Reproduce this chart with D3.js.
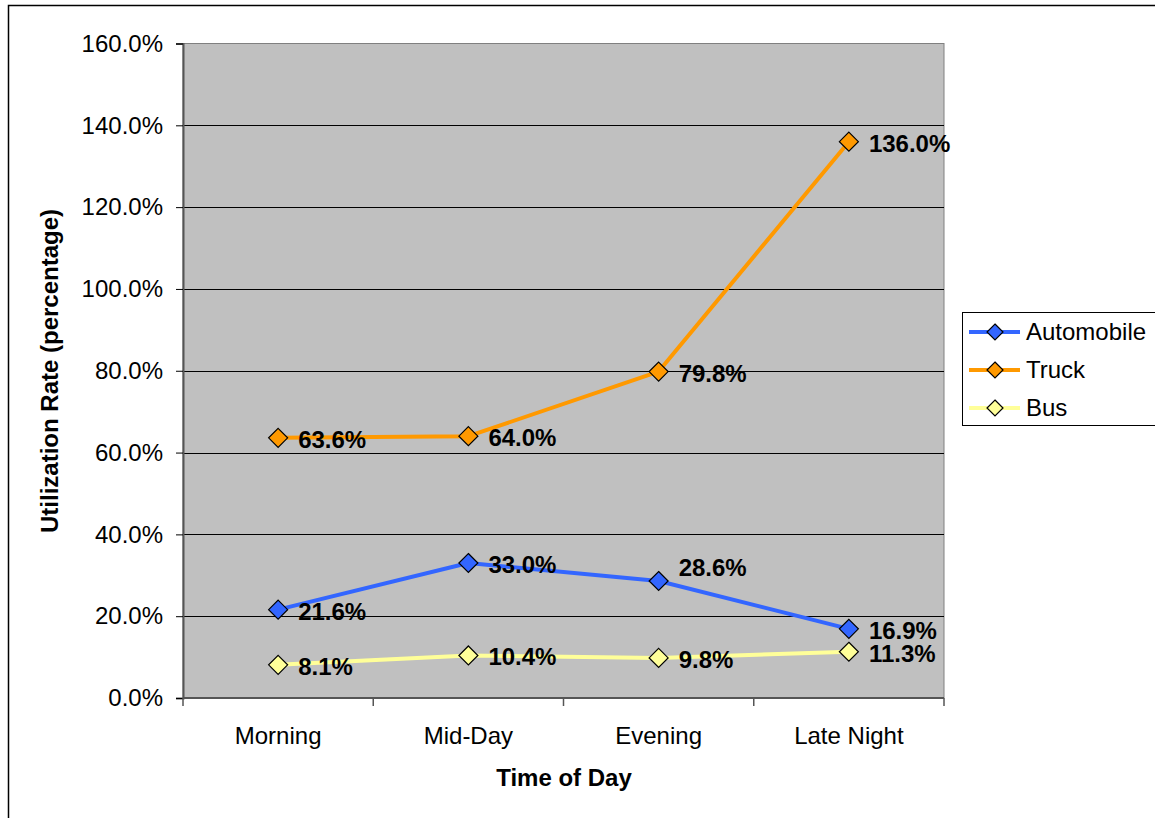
<!DOCTYPE html>
<html>
<head>
<meta charset="utf-8">
<script src="https://cdn.jsdelivr.net/npm/d3@7"></script>
<style>
  html, body { margin: 0; padding: 0; background: #fff; }
  svg { display: block; }
  text { font-family: "Liberation Sans", Arial, sans-serif; }
</style>
</head>
<body>
<svg id="chart" width="1155" height="818"></svg>
<script>
// ---- Data ----
const categories = ["Morning", "Mid-Day", "Evening", "Late Night"];
const seriesNames = ["Automobile", "Truck", "Bus"];
const automobile = [21.6, 33.0, 28.6, 16.9];
const truck = [63.6, 64.0, 79.8, 136.0];
const bus = [8.1, 10.4, 9.8, 11.3];
const yTicks = [0, 20, 40, 60, 80, 100, 120, 140, 160];
const seriesColors = ["#3366FF", "#FF9900", "#FFFF99"];
const xTitle = "Time of Day";
const yTitle = "Utilization Rate (percentage)";

const seriesValues = [automobile, truck, bus];
const series = seriesNames.map((name, i) => ({
  name, color: seriesColors[i],
  values: seriesValues[i].map((v, j) => ({ cat: categories[j], v }))
}));

// ---- Layout ----
const svg = d3.select("#chart");
const plot = { left: 183, right: 944, top: 43.5, bottom: 698 };
const FS = 24;

// outer chart frame
svg.append("rect")
  .attr("x", 8.5).attr("y", 5.5).attr("width", 1170).attr("height", 830)
  .attr("fill", "#fff").attr("stroke", "#000").attr("stroke-width", 1.5);

const x = d3.scaleBand().domain(categories).range([plot.left, plot.right]).padding(0);
const y = d3.scaleLinear().domain([0, 160]).range([plot.bottom, plot.top]);
const cx = c => x(c) + x.bandwidth() / 2;

// plot area
svg.append("rect")
  .attr("x", plot.left).attr("y", plot.top)
  .attr("width", plot.right - plot.left).attr("height", plot.bottom - plot.top)
  .attr("fill", "#C0C0C0").attr("stroke", "#808080").attr("stroke-width", 1);

// gridlines
svg.append("g").selectAll("line").data(yTicks.filter(t => t > 0 && t < 160)).join("line")
  .attr("x1", plot.left).attr("x2", plot.right)
  .attr("y1", d => Math.round(y(d)) + 0.5).attr("y2", d => Math.round(y(d)) + 0.5)
  .attr("stroke", "#000").attr("stroke-width", 1);

// Y axis
const yAxis = d3.axisLeft(y).tickValues(yTicks).tickSize(7).tickPadding(13)
  .tickFormat(d => d3.format(".1f")(d) + "%");
const gy = svg.append("g").attr("transform", `translate(${plot.left},0)`).call(yAxis);
gy.select(".domain").attr("stroke", "#555").attr("stroke-width", 2);
gy.selectAll(".tick line").attr("stroke", "#000");
gy.selectAll(".tick text").attr("font-size", FS).attr("fill", "#000")
  .attr("font-family", "Liberation Sans, Arial, sans-serif");

// X axis (ticks at category boundaries)
svg.append("line").attr("x1", plot.left).attr("x2", plot.right)
  .attr("y1", plot.bottom).attr("y2", plot.bottom).attr("stroke", "#555").attr("stroke-width", 2);
const boundaries = categories.map(c => x(c)).concat([plot.right]);
svg.append("g").selectAll("line").data(boundaries).join("line")
  .attr("x1", d => d).attr("x2", d => d)
  .attr("y1", plot.bottom).attr("y2", plot.bottom + 8)
  .attr("stroke", "#555").attr("stroke-width", 1.5);
svg.append("g").selectAll("text").data(categories).join("text")
  .attr("x", d => cx(d)).attr("y", 744)
  .attr("text-anchor", "middle").attr("font-size", FS).attr("fill", "#000")
  .text(d => d);

// Axis titles
svg.append("text").attr("x", 564).attr("y", 786)
  .attr("text-anchor", "middle").attr("font-size", FS).attr("font-weight", "bold")
  .text(xTitle);
svg.append("text").attr("transform", "translate(58,371) rotate(-90)")
  .attr("text-anchor", "middle").attr("font-size", FS).attr("font-weight", "bold")
  .text(yTitle);

// Lines
const line = d3.line().x(d => cx(d.cat)).y(d => y(d.v));
const diamondPath = "M0,-9.5L9.5,0L0,9.5L-9.5,0Z";

series.forEach(s => {
  svg.append("path").datum(s.values)
    .attr("d", line).attr("fill", "none")
    .attr("stroke", s.color).attr("stroke-width", 4).attr("stroke-linejoin", "round");
});
series.forEach(s => {
  svg.append("g").selectAll("path").data(s.values).join("path")
    .attr("d", diamondPath)
    .attr("transform", d => `translate(${cx(d.cat)},${y(d.v)})`)
    .attr("fill", s.color).attr("stroke", "#000").attr("stroke-width", 1.2);
});

// Data labels (one label lifted to avoid overlap, as in the original)
const liftedLabels = { "Automobile|Evening": -15 };
series.forEach(s => {
  svg.append("g").selectAll("text").data(s.values).join("text")
    .attr("x", d => cx(d.cat) + 20)
    .attr("y", d => y(d.v) + 10 + (liftedLabels[s.name + "|" + d.cat] || 0))
    .attr("font-size", FS).attr("font-weight", "bold").attr("fill", "#000")
    .text(d => d3.format(".1f")(d.v) + "%");
});

// Legend
const legend = svg.append("g");
legend.append("rect").attr("x", 962.5).attr("y", 312.5).attr("width", 200).attr("height", 113)
  .attr("fill", "#fff").attr("stroke", "#000").attr("stroke-width", 1);
const rowY = d3.scalePoint().domain(seriesNames).range([332, 408]);
series.forEach(s => {
  const yy = rowY(s.name);
  legend.append("line").attr("x1", 969).attr("x2", 1020).attr("y1", yy).attr("y2", yy)
    .attr("stroke", s.color).attr("stroke-width", 4);
  legend.append("path").attr("d", "M0,-8L8,0L0,8L-8,0Z")
    .attr("transform", `translate(995,${yy})`)
    .attr("fill", s.color).attr("stroke", "#000").attr("stroke-width", 1.2);
  legend.append("text").attr("x", 1026).attr("y", yy + 8)
    .attr("font-size", FS).attr("fill", "#000").text(s.name);
});
</script>
</body>
</html>
